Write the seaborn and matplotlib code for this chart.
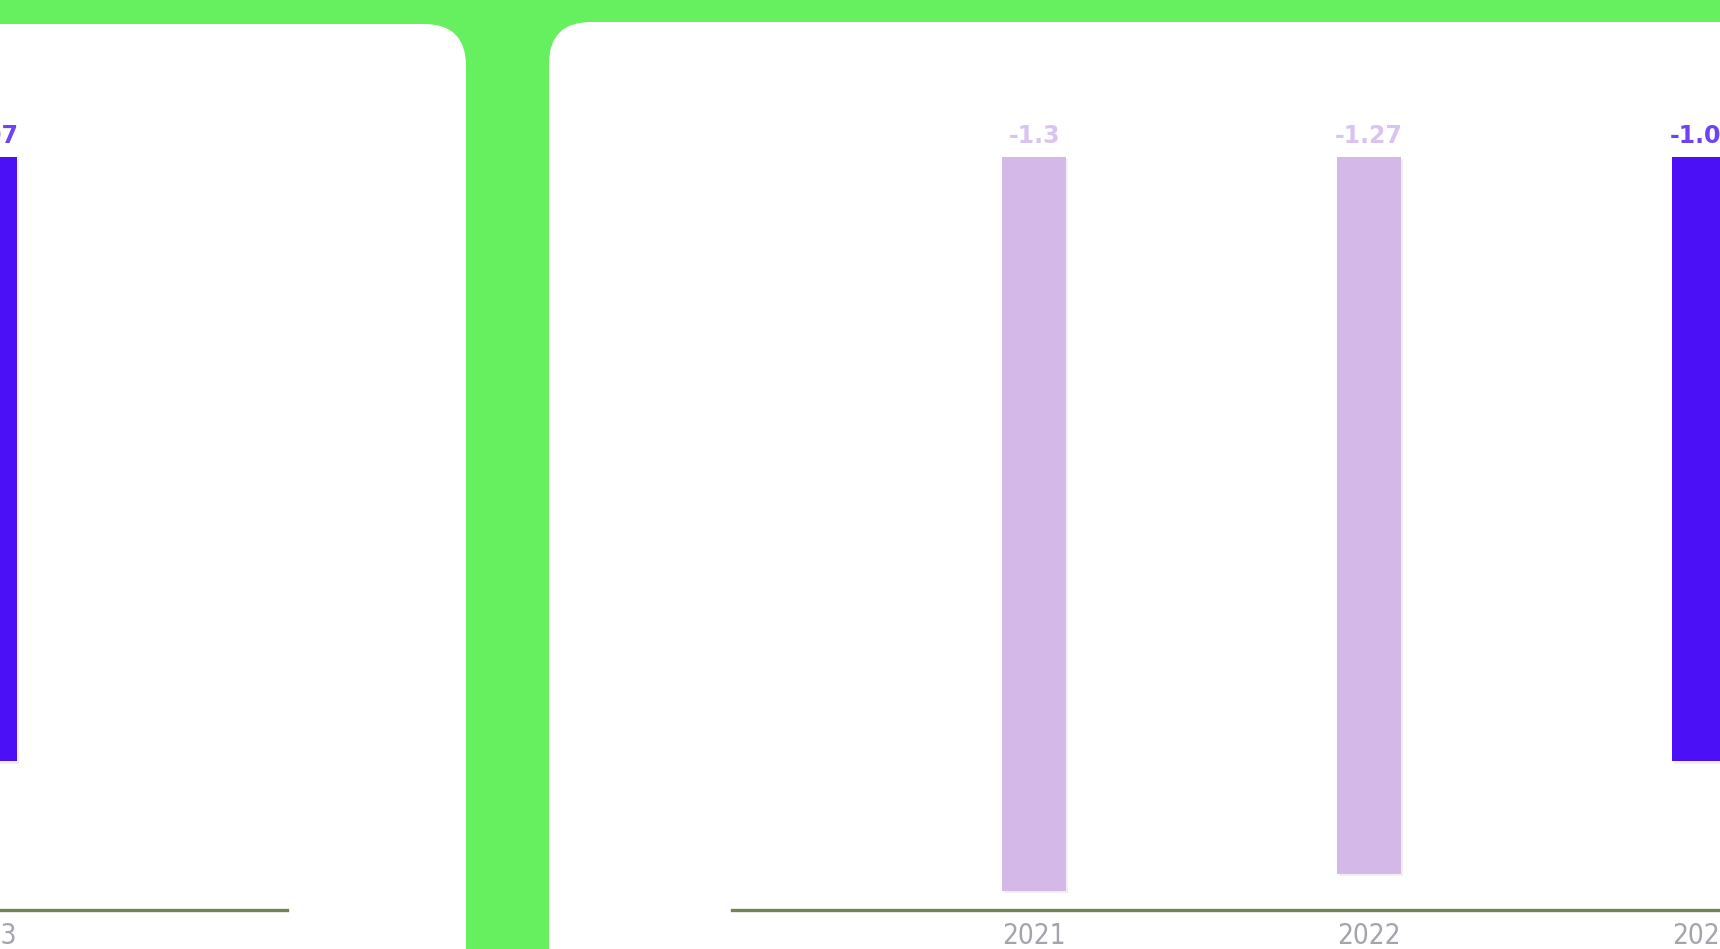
import matplotlib
matplotlib.use("Agg")
import matplotlib.pyplot as plt
import matplotlib.patheffects as pe
from matplotlib.patches import FancyBboxPatch
import seaborn as sns
import pandas as pd

# ---- data ----
years = ["2021", "2022", "2023"]
values = [-1.3, -1.27, -1.07]
bar_colors = ["#d3b8e8", "#d3b8e8", "#4b10f5"]
label_colors = ["#d9c3f0", "#d9c3f0", "#6e42f5"]

df = pd.DataFrame({"year": years, "value": values})
palette = dict(zip(years, bar_colors))

sns.set_theme(style="white")
plt.rcParams["font.family"] = ["DejaVu Sans"]

W, H = 1720, 949
fig = plt.figure(figsize=(W / 100, H / 100), dpi=100)
fig.patch.set_facecolor("#66f060")

# background axes in pixel coordinates for the white rounded panels
bg = fig.add_axes([0, 0, 1, 1], zorder=-5)
bg.set_xlim(0, W)
bg.set_ylim(H, 0)
bg.axis("off")
for (x0, yt, x1, yb) in [(-200, 24, 466, 1100), (549, 22, 1900, 1100)]:
    bg.add_patch(FancyBboxPatch((x0, yt), x1 - x0, yb - yt,
                                boxstyle="round,pad=0,rounding_size=42",
                                facecolor="white", edgecolor="none",
                                clip_on=False))

XLIM = (-0.9015, 2.9015)
YLIM = (-1.333, 0.0)
ax_w = 1274
y_top, y_bot = 157, 910

def make_ax(left_px):
    ax = fig.add_axes([left_px / W, 1 - y_bot / H, ax_w / W, (y_bot - y_top) / H])
    ax.set_facecolor("none")
    sns.barplot(data=df, x="year", y="value", hue="year", palette=palette,
                width=0.19, legend=False, ax=ax, saturation=1, linewidth=0)
    for patch in ax.patches:
        patch.set_path_effects([
            pe.SimplePatchShadow(offset=(1.5, -1.5), shadow_rgbFace="#888888", alpha=0.12),
            pe.Normal()])
    for i, (v, c) in enumerate(zip(values, label_colors)):
        ax.annotate(f"{v:g}", xy=(i, 0), xytext=(0, 10), textcoords="offset points",
                    ha="center", va="baseline", fontsize=17, fontweight="bold",
                    color=c, annotation_clip=False)
    ax.set_xlim(*XLIM)
    ax.set_ylim(*YLIM)
    ax.set_xlabel("")
    ax.set_ylabel("")
    ax.set_yticks([])
    for s in ["top", "left", "right"]:
        ax.spines[s].set_visible(False)
    ax.spines["bottom"].set_color("#6d8752")
    ax.spines["bottom"].set_linewidth(2.4)
    ax.tick_params(axis="x", length=0, pad=9, labelsize=20, labelcolor="#a4a4ac")
    for t in ax.get_xticklabels():
        t.set_fontstretch("condensed")
    return ax

make_ax(732)
make_ax(287 - ax_w)

fig.savefig("out.png", dpi=100, facecolor=fig.get_facecolor())
